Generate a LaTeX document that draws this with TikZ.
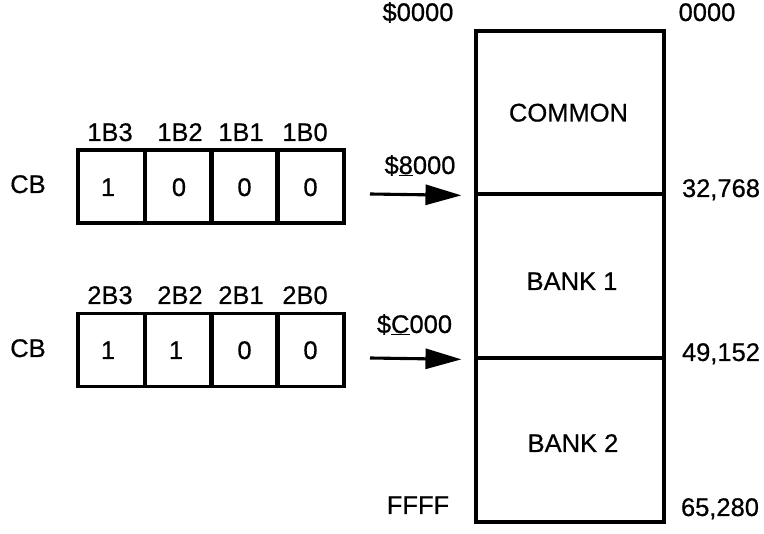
\documentclass[tikz,border=0pt]{standalone}
\usepackage{fontspec}
\setmainfont{Liberation Sans}[FakeBold=0.6]
\usetikzlibrary{arrows.meta}
\tikzset{
  lbl/.style={font=\fontsize{25.5}{30}\selectfont, inner sep=0pt, anchor=base},
  cell/.style={draw, line width=3.1pt, minimum width=67pt, minimum height=73pt, inner sep=0pt},
  region/.style={draw, line width=3.1pt, minimum width=188pt, inner sep=0pt},
  ptr/.style={line width=3.1pt, -{Triangle[length=36pt,width=20pt]}, shorten >=13pt},
}
\begin{document}
\begin{tikzpicture}[x=1pt,y=-1pt]
\useasboundingbox (0,0) rectangle (764,534);
% register 1
\node[cell] (r1c3) at (111.5,186.5) {};
\node[cell] (r1c2) at (179,186.5) {};
\node[cell] (r1c1) at (244.5,186.5) {};
\node[cell] (r1c0) at (310.5,186.5) {};
\node[lbl] (cb1) at (28,193) {CB};
\node[lbl] (v13) at (108,196) {1};
\node[lbl] (v12) at (179,196) {0};
\node[lbl] (v11) at (244.5,196) {0};
\node[lbl] (v10) at (310.5,196) {0};
\node[lbl] (l1b3) at (110,141) {1B3};
\node[lbl] (l1b2) at (180,141) {1B2};
\node[lbl] (l1b1) at (241,141) {1B1};
\node[lbl] (l1b0) at (305,141) {1B0};
% register 2
\node[cell] (r2c3) at (111.5,350) {};
\node[cell] (r2c2) at (179,350) {};
\node[cell] (r2c1) at (244.5,350) {};
\node[cell] (r2c0) at (310.5,350) {};
\node[lbl] (cb2) at (28,357) {CB};
\node[lbl] (v23) at (108,359) {1};
\node[lbl] (v22) at (176,359) {1};
\node[lbl] (v21) at (244.5,359) {0};
\node[lbl] (v20) at (310.5,359) {0};
\node[lbl] (l2b3) at (110,304) {2B3};
\node[lbl] (l2b2) at (180,304) {2B2};
\node[lbl] (l2b1) at (241,304) {2B1};
\node[lbl] (l2b0) at (305,304) {2B0};
% memory map
\node[region, minimum height=163pt] (common) at (570,112.5) {};
\node[region, minimum height=164pt] (bank1) at (570,276) {};
\node[region, minimum height=164pt] (bank2) at (570,440) {};
\node[lbl] (tcommon) at (568.5,121.5) {COMMON};
\node[lbl] (tbank1) at (572,290) {BANK 1};
\node[lbl] (tbank2) at (573,452) {BANK 2};
\node[lbl] (a0000) at (418,21) {\$0000};
\node[lbl] (affff) at (418,514) {FFFF};
\node[lbl] (d0) at (707,21) {0000};
\node[lbl] (d1) at (721,197) {32,768};
\node[lbl] (d2) at (721,361) {49,152};
\node[lbl] (d3) at (720,516) {65,280};
% arrows
\coordinate (s1) at (370,194);
\coordinate (s2) at (370,358);
\draw[ptr] (s1) -- (common.south west);
\draw[ptr] (s2) -- (bank1.south west);
\node[lbl] (a8000) at (420,174) {\$\underline{8}000};
\node[lbl] (ac000) at (414.5,333) {\$\underline{C}000};
\end{tikzpicture}
\end{document}
